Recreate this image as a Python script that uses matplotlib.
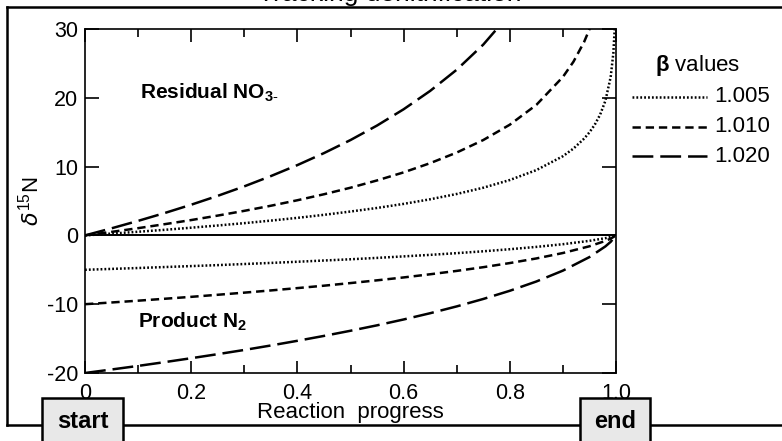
import matplotlib.pyplot as plt
from matplotlib.lines import Line2D
from matplotlib.patches import Rectangle
from matplotlib.ticker import MultipleLocator

plt.rcParams['font.family'] = ['Liberation Sans', 'DejaVu Sans']
plt.rcParams['mathtext.fontset'] = 'custom'
plt.rcParams['mathtext.rm'] = 'Liberation Sans'
plt.rcParams['mathtext.bf'] = 'Liberation Sans:bold'
plt.rcParams['lines.scale_dashes'] = False

# reaction progress (fraction of nitrate consumed)
progress = [0, 0.05, 0.10, 0.15, 0.20, 0.25, 0.30, 0.35, 0.40, 0.45, 0.50,
            0.55, 0.60, 0.65, 0.70, 0.75, 0.80, 0.85, 0.90, 0.92, 0.94, 0.95,
            0.96, 0.97, 0.98, 0.99, 0.995, 0.9975]
progress_n2 = [0, 0.05, 0.10, 0.15, 0.20, 0.25, 0.30, 0.35, 0.40, 0.45, 0.50,
               0.55, 0.60, 0.65, 0.70, 0.75, 0.80, 0.85, 0.90, 0.95, 0.98,
               0.99, 1.0]

# residual nitrate d15N
no3_1005 = [0, 0.26, 0.53, 0.81, 1.12, 1.44, 1.78, 2.15, 2.55, 2.99, 3.47,
            3.99, 4.58, 5.25, 6.02, 6.93, 8.05, 9.49, 11.51, 12.63, 14.07,
            14.98, 16.09, 17.53, 19.56, 23.03, 26.49, 29.96]
no3_1010 = [0, 0.51, 1.05, 1.63, 2.23, 2.88, 3.57, 4.31, 5.11, 5.98, 6.93,
            7.99, 9.16, 10.50, 12.04, 13.86, 16.09, 18.97, 23.03, 25.26, 28.13,
            29.96, 32.19]
no3_1020 = [0, 1.03, 2.11, 3.25, 4.46, 5.75, 7.13, 8.62, 10.22, 11.96, 13.86,
            15.97, 18.33, 21.00, 24.08, 27.73, 32.19]

# accumulated product N2 d15N
n2_1005 = [-5.00, -4.87, -4.74, -4.60, -4.46, -4.32, -4.16, -4.00, -3.83,
           -3.65, -3.47, -3.27, -3.05, -2.83, -2.58, -2.31, -2.01, -1.67,
           -1.28, -0.79, -0.40, -0.23, 0]
n2_1010 = [-10.00, -9.75, -9.49, -9.21, -8.93, -8.63, -8.32, -8.00, -7.66,
           -7.31, -6.93, -6.53, -6.11, -5.65, -5.16, -4.62, -4.02, -3.35,
           -2.56, -1.58, -0.80, -0.47, 0]
n2_1020 = [-20.00, -19.49, -18.97, -18.42, -17.85, -17.26, -16.65, -16.00,
           -15.32, -14.61, -13.86, -13.07, -12.22, -11.31, -10.32, -9.24,
           -8.05, -6.70, -5.12, -3.15, -1.60, -0.93, 0]

beta_labels = ['1.005', '1.010', '1.020']
x_ticks = [0, 0.2, 0.4, 0.6, 0.8, 1.0]
x_ticklabels = ['0', '0.2', '0.4', '0.6', '0.8', '1.0']
y_ticks = [-20, -10, 0, 10, 20, 30]
y_ticklabels = ['-20', '-10', '0', '10', '20', '30']

styles = [dict(dashes=(1.3, 1.5), lw=1.8),
          dict(dashes=(6, 3.5), lw=1.8),
          dict(dashes=(15, 5), lw=1.8)]

fig = plt.figure(figsize=(7.82, 4.41), dpi=100)
ax = fig.add_axes([85 / 782, 1 - 373 / 441, 531 / 782, 344 / 441])

for res, prod, st in zip([no3_1005, no3_1010, no3_1020],
                         [n2_1005, n2_1010, n2_1020], styles):
    ax.plot(progress[:len(res)], res, color='black', **st)
    ax.plot(progress_n2, prod, color='black', **st)
ax.axhline(0, color='black', lw=1.4)

ax.set_xlim(0, 1)
ax.set_ylim(-20, 30)
ax.set_xticks(x_ticks)
ax.set_xticklabels(x_ticklabels)
ax.xaxis.set_minor_locator(MultipleLocator(0.1))
ax.set_yticks(y_ticks)
ax.set_yticklabels(y_ticklabels)
ax.tick_params(axis='both', which='both', direction='in', top=True,
               right=True, width=1.2, labelsize=15.5)
ax.tick_params(axis='x', which='major', length=9, pad=7)
ax.tick_params(axis='x', which='minor', length=6)
ax.tick_params(axis='y', which='major', length=10, pad=5)
for sp in ax.spines.values():
    sp.set_linewidth(1.2)

ax.set_xlabel('Reaction  progress', fontsize=16, labelpad=-1)
ax.set_ylabel(r'$\delta^{15}$N', fontsize=16, labelpad=2)

ax.text(0.104, 20.8, r'Residual NO$_{\mathbf{3\text{-}}}$', fontsize=15,
        fontweight='bold', va='center')
ax.text(0.10, -12.6, r'Product N$_{\mathbf{2}}$', fontsize=15,
        fontweight='bold', va='center')

# legend for the fractionation factors, drawn beside the axes
fig.text(698 / 782, 1 - 65 / 441, r'$\mathbf{\beta}$ values', fontsize=16,
         ha='center', va='center')
for i, (lab, st) in enumerate(zip(beta_labels, styles)):
    yy = 1 - (97 + 29.5 * i) / 441
    fig.add_artist(Line2D([632 / 782, 707 / 782], [yy, yy], color='black',
                          **st))
    fig.text(714 / 782, yy, lab, fontsize=16, va='center')

# outer frame with start / end markers
lw_frame = 1.8
fig.add_artist(Line2D([7 / 782, 1.0], [1 - 7 / 441, 1 - 7 / 441],
                      color='black', lw=lw_frame))
fig.add_artist(Line2D([7 / 782, 7 / 782], [1 - 7 / 441, 1 - 425 / 441],
                      color='black', lw=lw_frame))
fig.add_artist(Line2D([7 / 782, 1.0], [1 - 425 / 441, 1 - 425 / 441],
                      color='black', lw=lw_frame))
for x0, x1, lab in [(42, 123, 'start'), (580, 650, 'end')]:
    fig.add_artist(Rectangle((x0 / 782, -0.05), (x1 - x0) / 782,
                             0.05 + (441 - 398) / 441,
                             facecolor='#e8e8e8', edgecolor='black',
                             lw=lw_frame, zorder=3))
    fig.text((x0 + x1) / 2 / 782, 1 - 421 / 441, lab, fontsize=17,
             fontweight='bold', ha='center', va='center', zorder=4)

fig.text(390 / 782, 1 - 1 / 441, 'Tracking denitrification', fontsize=19,
         ha='center', va='baseline')

fig.savefig('out.png', dpi=100)
